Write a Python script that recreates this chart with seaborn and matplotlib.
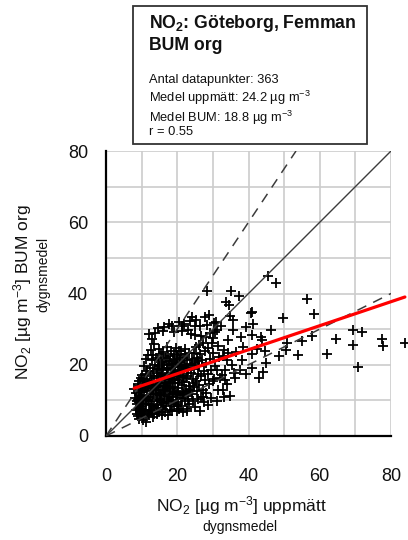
import matplotlib
matplotlib.use("Agg")
import matplotlib.pyplot as plt
import seaborn as sns
import numpy as np
import pandas as pd
from matplotlib.patches import Rectangle

sns.set_theme(style="white")
plt.rcParams["font.family"] = ["Liberation Sans", "DejaVu Sans"]
plt.rcParams["mathtext.fontset"] = "custom"
plt.rcParams["mathtext.rm"] = "Liberation Sans"
plt.rcParams["mathtext.it"] = "Liberation Sans:italic"
plt.rcParams["mathtext.bf"] = "Liberation Sans:bold"

# Daily means, NO2 [ug m-3]: measured (x) vs. BUM model (y)
measured = [
    7.9, 8.1, 8.3, 8.4, 8.6, 8.8, 8.9, 9.0, 9.1, 9.2, 9.3, 9.4, 9.5, 9.6, 9.7, 9.8, 9.9, 9.9, 9.6, 8.7, 9.3, 9.8,
    10.0, 10.1, 10.2, 10.2, 10.3, 10.4, 10.5, 10.5, 10.6, 10.7, 10.8, 10.9, 11.0, 11.0, 11.1, 11.2, 11.2, 11.3,
    11.4, 11.5, 11.6, 11.7, 11.8, 11.9, 11.9, 10.6, 11.3,
    12.0, 12.1, 12.1, 12.2, 12.3, 12.3, 12.4, 12.5, 12.5, 12.6, 12.6, 12.7, 12.8, 12.8, 12.9, 13.0, 13.0, 13.1,
    13.1, 13.2, 13.3, 13.3, 13.4, 13.5, 13.6, 13.6, 13.7, 13.8, 13.9, 13.7,
    14.0, 14.0, 14.1, 14.2, 14.2, 14.3, 14.4, 14.4, 14.5, 14.6, 14.6, 14.7, 14.8, 14.8, 14.9, 15.0, 15.0, 15.1,
    15.2, 15.2, 15.3, 15.4, 15.4, 15.5, 15.6, 15.6, 15.7, 15.8, 15.8, 15.9, 15.9, 14.7,
    16.0, 16.0, 16.1, 16.2, 16.2, 16.3, 16.4, 16.4, 16.5, 16.6, 16.6, 16.7, 16.8, 16.8, 16.9, 17.0, 17.0, 17.1,
    17.2, 17.2, 17.3, 17.4, 17.4, 17.5, 17.6, 17.6, 17.7, 17.8, 17.8, 17.9, 17.9,
    18.0, 18.0, 18.1, 18.2, 18.2, 18.3, 18.4, 18.4, 18.5, 18.6, 18.6, 18.7, 18.8, 18.8, 18.9, 19.0, 19.0, 19.1,
    19.2, 19.2, 19.3, 19.4, 19.4, 19.5, 19.6, 19.6, 19.7, 19.8, 19.8, 19.9, 19.9,
    20.0, 20.1, 20.1, 20.2, 20.3, 20.4, 20.4, 20.5, 20.6, 20.7, 20.8, 20.8, 20.9, 21.0, 21.1, 21.2, 21.2, 21.3,
    21.4, 21.5, 21.6, 21.6, 21.7, 21.8, 21.9, 21.9, 20.5, 21.0, 20.3, 21.4,
    22.0, 22.0, 22.1, 22.2, 22.3, 22.4, 22.5, 22.6, 22.6, 22.7, 22.8, 22.9, 23.0, 23.1, 23.2, 23.3, 23.4, 23.5,
    23.6, 23.7, 23.8, 23.9, 22.3, 23.0, 23.6, 22.8,
    24.0, 24.1, 24.2, 24.3, 24.4, 24.5, 24.6, 24.7, 24.8, 24.9, 25.0, 25.1, 25.2, 25.3, 25.4, 25.5, 25.6, 25.7,
    25.8, 25.9, 24.2, 25.1,
    26.0, 26.1, 26.2, 26.3, 26.4, 26.5, 26.6, 26.7, 26.8, 27.0, 27.1, 27.3, 27.4, 27.5, 27.7, 27.8, 27.9, 27.3,
    28.0, 28.1, 28.2, 28.3, 28.5, 28.7, 28.9, 29.0, 29.2, 29.3, 29.4, 29.6, 29.8, 29.9, 28.7,
    30.0, 30.1, 30.2, 30.4, 30.6, 30.9, 31.1, 31.3, 31.5, 31.6, 31.9, 30.7, 31.2,
    32.5, 33.4, 33.9, 34.1, 35.5, 32.8, 33.5, 34.3, 35.9, 32.2, 33.0, 36.4, 37.6,
    45.4, 47.7, 28.3, 35.0, 37.3, 33.7, 34.5, 56.3, 58.4, 49.8, 40.9, 40.6, 41.4, 39.2, 46.3, 43.5, 41.1, 37.8,
    50.8, 48.6, 50.5, 53.8, 55.1, 57.9, 62.0, 64.7, 69.2, 69.4, 71.8, 70.6, 77.6, 77.8, 83.9, 44.6, 42.5, 43.7,
    44.8, 44.2, 43.0, 40.9, 38.1, 40.9, 39.3, 36.2, 34.8, 33.1, 32.8, 34.8, 35.6, 35.7, 38.5, 34.3, 31.1,
]
modelled = [
    13.2, 10.8, 7.2, 12.0, 8.9, 6.1, 14.6, 10.1, 5.5, 11.6, 8.0, 15.3, 6.8, 9.4, 12.8, 7.5, 16.4, 5.9, 13.9, 9.7, 4.9, 11.0,
    8.3, 12.4, 6.4, 17.2, 9.9, 4.5, 14.1, 7.3, 11.2, 19.6, 5.6, 13.4, 16.0, 6.9, 10.5, 4.0, 21.5, 9.1,
    12.9, 15.1, 18.3, 10.0, 13.9, 6.3, 22.7, 15.8, 17.4,
    9.0, 28.6, 5.9, 14.6, 7.4, 19.1, 11.0, 16.8, 8.6, 24.1, 6.6, 12.5, 21.3, 9.8, 15.4, 7.0, 27.2, 11.9,
    18.2, 5.3, 13.6, 22.6, 8.4, 16.3, 25.8, 6.2, 14.2, 20.0, 12.1, 28.8,
    7.9, 22.0, 13.0, 17.8, 10.3, 18.8, 6.1, 15.5, 30.2, 11.4, 21.2, 8.7, 16.9, 24.4, 13.7, 6.8, 19.7, 10.0,
    11.6, 14.8, 22.9, 8.0, 17.3, 12.2, 19.0, 5.8, 20.3, 9.5, 15.9, 29.6, 12.8, 14.0,
    18.4, 7.6, 23.7, 11.1, 14.3, 30.6, 20.8, 9.2, 16.6, 13.9, 6.6, 12.6, 21.9, 15.0, 8.5, 19.2, 18.9, 13.5,
    10.4, 24.9, 17.1, 6.0, 22.4, 14.0, 31.3, 9.8, 19.9, 16.0, 10.9, 11.8, 7.4,
    21.0, 13.1, 15.2, 8.9, 17.7, 24.0, 11.0, 31.0, 15.6, 20.1, 7.1, 12.7, 13.8, 18.6, 10.2, 23.1, 29.3, 16.4,
    8.3, 21.7, 12.4, 19.5, 18.0, 14.9, 9.6, 24.6, 20.5, 16.9, 22.8, 11.7, 7.0,
    22.1, 13.6, 14.9, 9.1, 18.2, 17.6, 7.7, 15.8, 31.9, 20.9, 11.5, 21.2, 17.0, 8.4, 23.8, 14.4, 29.5, 19.6,
    10.6, 11.9, 16.5, 6.8, 21.8, 12.3, 19.3, 18.9, 24.0, 20.0, 12.0, 30.8,
    15.2, 31.3, 9.8, 24.3, 19.8, 12.7, 16.2, 7.5, 21.4, 16.8, 19.0, 11.2, 18.4, 29.8, 14.1, 23.2, 8.9, 20.2,
    13.0, 13.3, 17.6, 28.6, 22.9, 10.4, 32.4, 6.9,
    21.5, 11.9, 19.9, 16.0, 14.8, 9.7, 23.2, 18.9, 13.8, 28.3, 20.6, 8.1, 24.9, 15.4, 32.6, 12.5, 22.0, 21.0,
    17.5, 10.3, 33.5, 30.9,
    25.6, 14.2, 19.6, 31.0, 7.1, 23.0, 11.0, 28.1, 16.9, 21.3, 13.0, 26.2, 9.6, 18.3, 33.3, 24.0, 15.6, 11.0,
    27.9, 20.4, 12.0, 31.2, 17.4, 24.7, 14.6, 33.9, 28.9, 21.7, 10.8, 18.6, 26.0, 15.3, 8.6,
    23.2, 27.6, 15.9, 31.8, 19.7, 32.1, 18.5, 12.9, 25.3, 22.3, 16.4, 29.2, 9.9,
    17.1, 18.5, 21.3, 14.5, 20.0, 22.4, 15.6, 23.2, 17.8, 30.8, 24.1, 23.5, 18.6,
    45.0, 43.0, 40.8, 40.8, 39.4, 37.5, 36.7, 38.4, 34.2, 33.2, 34.8, 34.5, 31.4, 30.5, 29.8, 27.7, 28.4, 27.7,
    26.0, 22.5, 24.1, 22.7, 26.8, 28.2, 22.9, 27.3, 25.5, 29.8, 29.3, 19.5, 27.2, 25.4, 26.0, 23.9, 24.4, 26.9,
    20.4, 18.1, 16.2, 22.9, 21.3, 19.2, 17.4, 16.2, 11.3, 11.0, 12.9, 33.7, 32.6, 29.8, 25.1, 26.9, 29.8,
]
assert len(measured) == len(modelled) == 363, (len(measured), len(modelled))

# Regression line and the 1:1 / +-50 % guide lines
fit_intercept = 10.74
fit_slope = 0.337
guide_ratios = [1.5, 0.5]
axis_max = 80

stats_lines = [
    "Antal datapunkter: 363",
    "Medel uppmätt: 24.2 µg m$^{-3}$",
    "Medel BUM: 18.8 µg m$^{-3}$",
    "r = 0.55",
]

df = pd.DataFrame({"measured": measured, "modelled": modelled})

W, H = 408, 540
fig = plt.figure(figsize=(W / 100, H / 100), dpi=100)
ax = fig.add_axes([106 / W, 1 - 436 / H, 285 / W, 285 / H])

sns.scatterplot(data=df, x="measured", y="modelled", ax=ax, marker="+", color="black",
                s=42, linewidth=1.3, clip_on=False, zorder=2, legend=False)

guide_col = "#3c3c3c"
ax.plot([0, axis_max], [0, axis_max], color=guide_col, lw=1.0, zorder=3)
for r in guide_ratios:
    x_end = min(axis_max, axis_max / r)
    ax.plot([0, x_end], [0, r * x_end], color=guide_col, lw=1.1, dashes=(6.5, 5), zorder=3)

xs = np.array([min(measured), max(measured)])
ax.plot(xs, fit_intercept + fit_slope * xs, color="#ff0000", lw=2.3, zorder=4, clip_on=False)

ax.set_xlim(0, axis_max)
ax.set_ylim(0, axis_max)
ax.set_xticks(range(0, 81, 20))
ax.set_yticks(range(0, 81, 20))
ax.set_xticks(range(10, 80, 20), minor=True)
ax.set_yticks(range(10, 80, 20), minor=True)
ax.grid(which="both", color="#cccccc", lw=1.2)
ax.set_axisbelow(True)
ax.set_xlabel("")
ax.set_ylabel("")

sns.despine(ax=ax)
for side in ("left", "bottom"):
    ax.spines[side].set_color("black")
    ax.spines[side].set_linewidth(1.6)
ax.tick_params(which="major", direction="out", length=9, width=1.5, color="black",
               labelsize=13, labelcolor="#111111")
ax.tick_params(which="minor", direction="out", length=5, width=1.5, color="black")
ax.tick_params(axis="x", which="major", pad=14)
ax.tick_params(axis="y", which="major", pad=4)

# Axis titles
fig.text(241 / W, 1 - 511.5 / H, "NO$_2$ [µg m$^{-3}$] uppmätt", ha="center", va="baseline",
         fontsize=12.5, color="#111111")
fig.text(240 / W, 1 - 531 / H, "dygnsmedel", ha="center", va="baseline", fontsize=10,
         color="#111111")
fig.text(28.5 / W, 1 - 292.5 / H, "NO$_2$ [µg m$^{-3}$] BUM org", ha="center", va="baseline",
         rotation=90, rotation_mode="anchor", fontsize=12.5, color="#111111")
fig.text(47 / W, 1 - 274 / H, "dygnsmedel", ha="center", va="baseline",
         rotation=90, rotation_mode="anchor", fontsize=10, color="#111111")

# Info box
fig.add_artist(Rectangle((133 / W, 1 - 144 / H), 234 / W, 138 / H, transform=fig.transFigure,
                         facecolor="white", edgecolor="#333333", lw=1.3))
fig.text(149 / W, 1 - 28 / H, "NO$_\\mathbf{2}$: Göteborg, Femman", ha="left", va="baseline",
         fontsize=12.7, fontweight="bold", color="#111111")
fig.text(149 / W, 1 - 50 / H, "BUM org", ha="left", va="baseline",
         fontsize=12.7, fontweight="bold", color="#111111")
for text, base in zip(stats_lines, [83, 102, 122, 135]):
    fig.text(149 / W, 1 - base / H, text, ha="left", va="baseline", fontsize=9.3, color="#111111")

fig.savefig("out.png", dpi=100)
